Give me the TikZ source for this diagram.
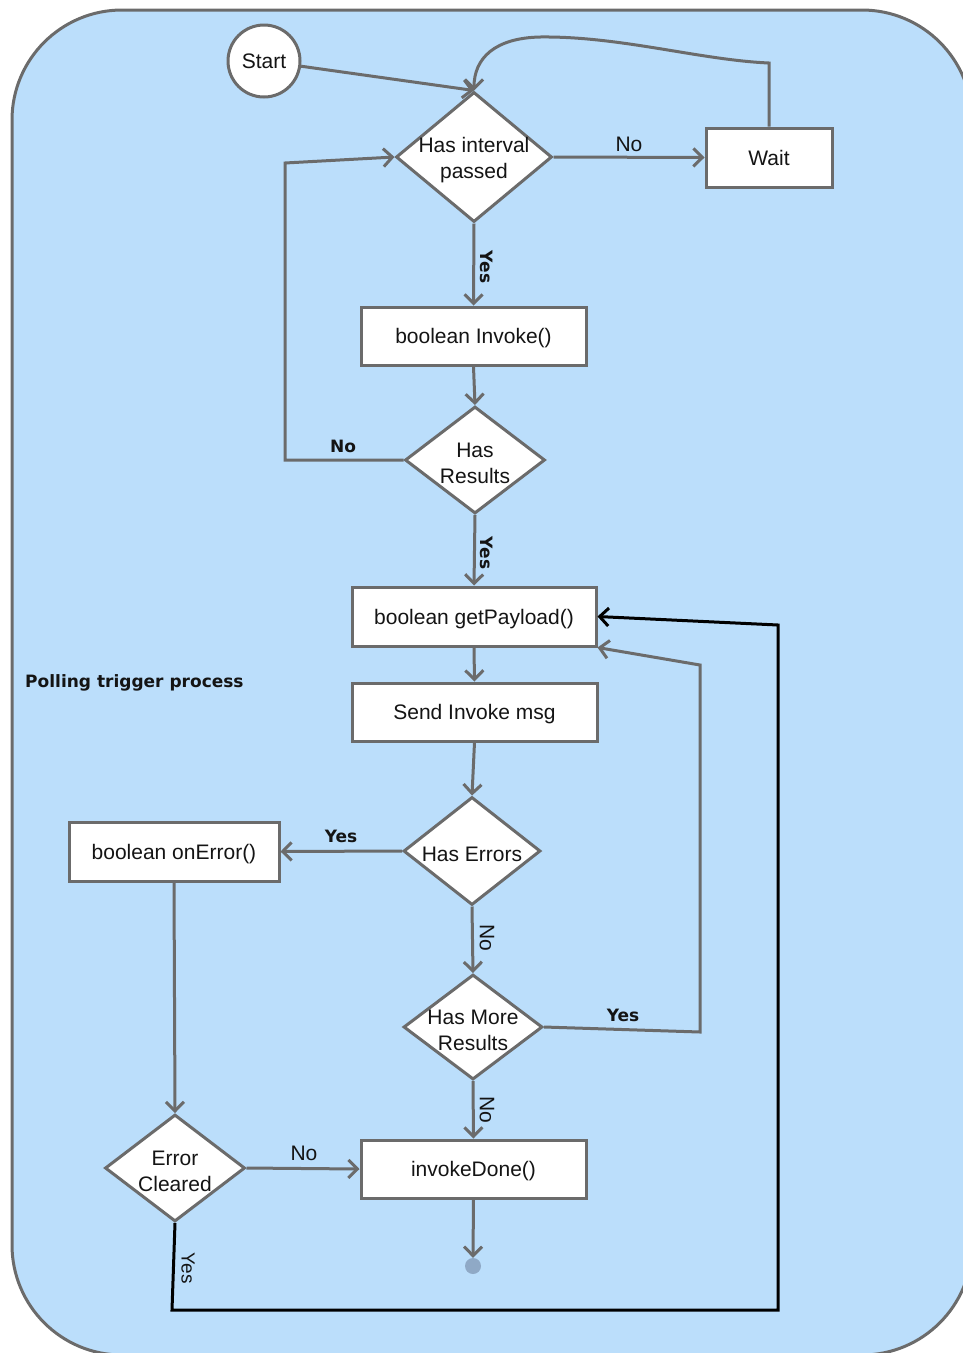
\documentclass[tikz,border=0pt]{standalone}
\usepackage{fontspec}
\setmainfont{Liberation Sans}
\newfontfamily\labfont{DejaVu Sans}
\usetikzlibrary{shapes.geometric,arrows.meta}
\definecolor{bgblue}{HTML}{BBDEFB}
\definecolor{edgegray}{HTML}{6B6B6B}
\definecolor{txt}{HTML}{141414}
\definecolor{dotc}{HTML}{8FA9C6}
\begin{document}
\begin{tikzpicture}[x=1pt,y=-1pt,
  every node/.style={text=txt, font=\fontsize{21}{26}\selectfont},
  box/.style={rectangle, draw=edgegray, line width=3pt, fill=white, inner sep=0pt, text height=17pt, text depth=2pt},
  dia/.style={diamond, draw=edgegray, line width=3pt, fill=white, inner sep=0pt},
  conn/.style={draw=edgegray, line width=3pt, -{Straight Barb[length=9pt,width=18pt]}},
  plain/.style={draw=edgegray, line width=3pt},
  boldlab/.style={font=\labfont\bfseries\fontsize{17}{20}\selectfont, inner sep=0pt},
  normlab/.style={font=\fontsize{21}{26}\selectfont, inner sep=0pt},
  dtext/.style={align=center, inner sep=0pt, yshift=-3pt}
]
\useasboundingbox (0,0) rectangle (963,1353);
\clip (0,0) rectangle (963,1353);
\draw[fill=bgblue, draw=edgegray, line width=3pt, rounded corners=110pt] (12,10) rectangle (972,1355);

% nodes
\node[circle, draw=edgegray, line width=3pt, fill=white, minimum size=72pt, inner sep=0pt] (start) at (264,61) {Start};
\node[dia, minimum width=156pt, minimum height=130pt, label={[dtext]center:Has interval\\passed}] (d1) at (474,157) {};
\node[box, minimum width=126pt, minimum height=59pt] (wait) at (769,157.5) {Wait};
\node[box, minimum width=225pt, minimum height=58pt] (inv) at (473.5,336) {boolean Invoke()};
\node[dia, minimum width=140pt, minimum height=107pt, label={[dtext]center:Has\\Results}] (d2) at (475,460) {};
\node[box, minimum width=244pt, minimum height=59pt] (gp) at (474,616.5) {boolean getPayload()};
\node[box, minimum width=245pt, minimum height=58pt] (sim) at (474.5,712) {Send Invoke msg};
\node[dia, minimum width=137pt, minimum height=108pt, label={[dtext]center:Has Errors}] (d3) at (472,851) {};
\node[box, minimum width=210pt, minimum height=59pt] (oe) at (174,851.5) {boolean onError()};
\node[dia, minimum width=139pt, minimum height=105pt, label={[dtext]center:Has More\\Results}] (d4) at (473,1027) {};
\node[box, minimum width=225pt, minimum height=58pt] (idn) at (473.5,1169) {invokeDone()};
\node[dia, minimum width=140pt, minimum height=107pt, label={[dtext]center:Error\\Cleared}] (d5) at (175,1168) {};
\node[circle, fill=dotc, minimum size=16pt, inner sep=0pt] (dot) at (473,1266) {};

\node[boldlab, anchor=west] (title) at (25,683) {Polling trigger process};

% helper coordinates
\coordinate (w1) at (769,63);
\coordinate (c1) at (285,460);
\coordinate (c2) at (285,163);
\coordinate (m1) at (700,1032);
\coordinate (m2) at (700,665);
\coordinate (b1) at (172,1310);
\coordinate (b2) at (778,1310);
\coordinate (b3) at (778,625);

% connectors
\draw[conn] (start) -- (d1.north);
\draw[conn] (wait.north) -- (w1) .. controls (700,60) and (620,36) .. (540,37) .. controls (495,38) and (474,58) .. (d1.north);
\draw[conn] (d1.east) -- (wait.west);
\draw[conn] (d1.south) -- (inv.north);
\draw[conn] (inv.south) -- (d2.north);
\draw[conn] (d2.west) -- (c1) -- (c2) -- (d1.west);
\draw[conn] (d2.south) -- (gp.north);
\draw[conn] (gp.south) -- (sim.north);
\draw[conn] (sim.south) -- (d3.north);
\draw[conn] (d3.west) -- (oe.east);
\draw[conn] (d3.south) -- (d4.north);
\draw[conn] (d4.east) -- (m1) -- (m2) -- (gp.south east);
\draw[conn] (d4.south) -- (idn.north);
\draw[conn] (oe.south) -- (d5.north);
\draw[conn] (d5.east) -- (idn.west);
\draw[conn] (idn.south) -- (dot.north);
\draw[conn, draw=black] (d5.south) -- (b1) -- (b2) -- (b3) -- (gp.east);

% edge labels
\node[normlab] (l1) at (629,144) {No};
\node[boldlab, rotate=-90] (l2) at (487,267) {Yes};
\node[boldlab] (l3) at (343,446) {No};
\node[boldlab, rotate=-90] (l4) at (487,553) {Yes};
\node[boldlab] (l5) at (341,836) {Yes};
\node[normlab, rotate=-90] (l6) at (487,938) {No};
\node[boldlab] (l7) at (623,1015) {Yes};
\node[normlab, rotate=-90] (l8) at (487,1110) {No};
\node[normlab] (l9) at (304,1153) {No};
\node[normlab, rotate=-90, font=\fontsize{19}{22}\selectfont] (l10) at (188,1268) {Yes};
\end{tikzpicture}
\end{document}
